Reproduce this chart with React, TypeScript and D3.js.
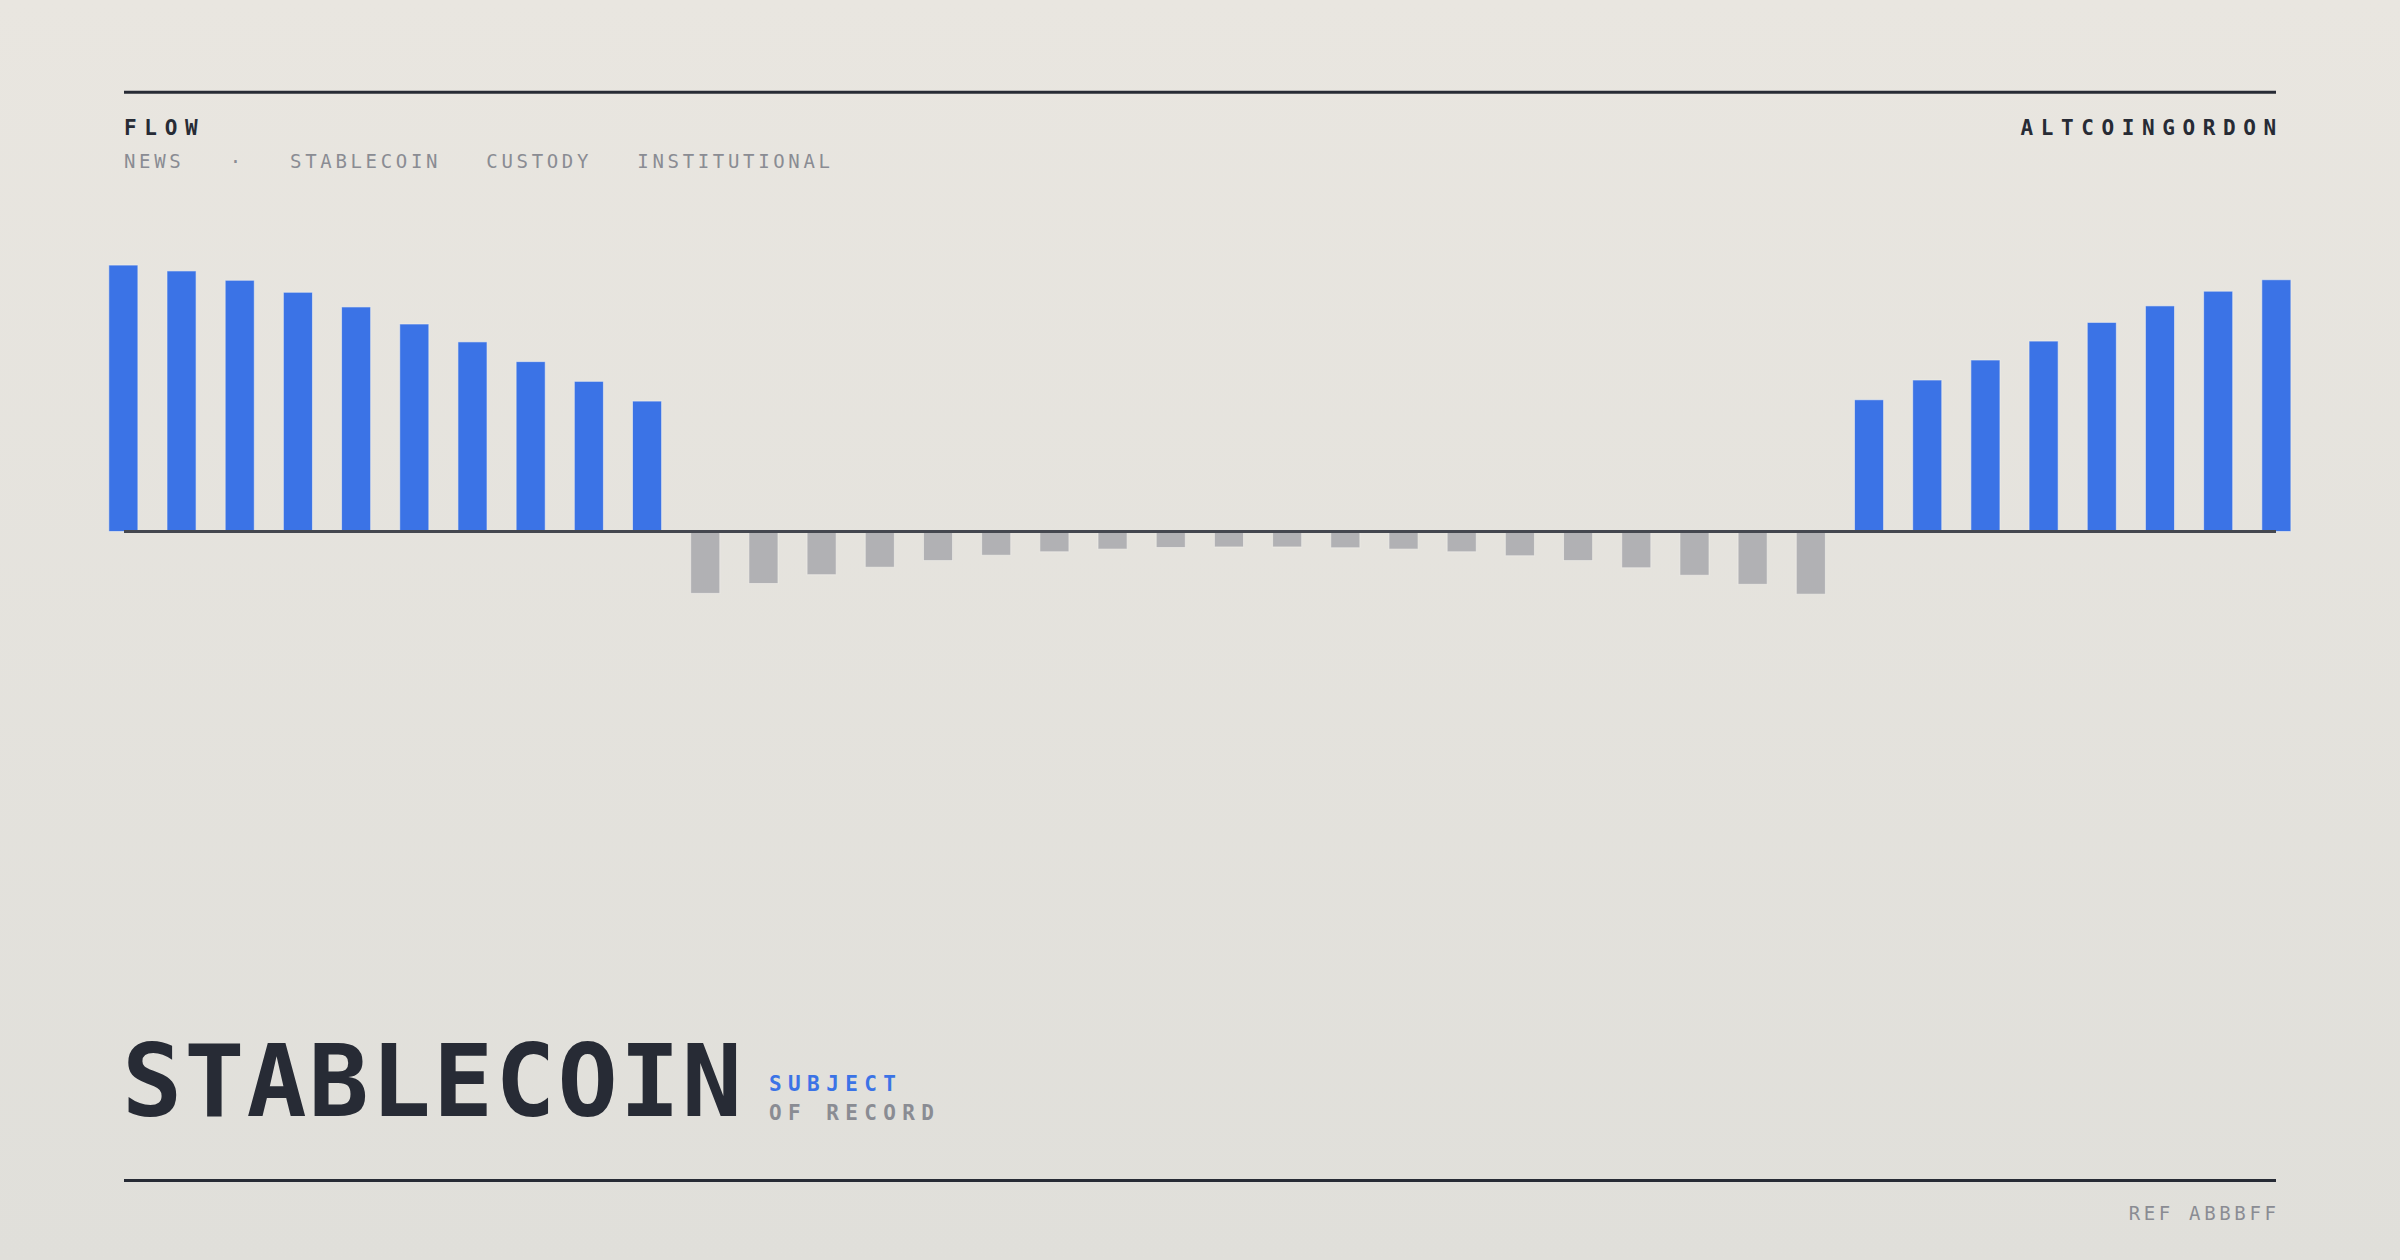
import React, { useEffect } from "react";
import * as d3 from "d3";

const W = 2400;
const H = 1260;

// Bar values (arbitrary units, 100 = tallest inflow)
const flowValues = [
  99.9, 97.7, 94.2, 89.7, 84.2, 77.8, 71.1, 63.7, 56.3, 48.9,
  -23.2, -19.5, -16.2, -13.4, -10.9, -8.9, -7.6, -6.6, -6.0, -5.8,
  -5.8, -6.1, -6.6, -7.6, -9.1, -10.9, -13.6, -16.4, -19.8, -23.5,
  49.4, 56.8, 64.3, 71.4, 78.4, 84.6, 90.1, 94.4,
];
const periods = flowValues.map((_, i) => i);

const headerLeft = "FLOW";
const headerRight = "ALTCOINGORDON";
const tagLine = "NEWS   ·   STABLECOIN   CUSTODY   INSTITUTIONAL";
const titleText = "STABLECOIN";
const subTop = "SUBJECT";
const subBottom = "OF RECORD";
const refText = "REF ABBBFF";

const COL_DARK = "#272b35";
const COL_GRAY = "#8a8c93";
const COL_BLUE = "#3b73e6";
const COL_NEG = "#b1b1b4";
const MONO = "'DejaVu Sans Mono', 'Liberation Mono', monospace";

export default function App() {
  useEffect(() => {
    document.body.style.margin = "0";
  }, []);

  const left = 124;
  const right = 2276;

  const x = d3
    .scaleBand<number>()
    .domain(periods)
    .range([94.25, 2305.45])
    .paddingInner(0.5)
    .paddingOuter(0.25);

  const y = d3.scaleLinear().domain([0, 100]).range([531.5, 264.8]);

  return (
    <svg
      width={W}
      height={H}
      viewBox={`0 0 ${W} ${H}`}
      style={{ position: "absolute", left: 0, top: 0, display: "block" }}
    >
      <defs>
        <linearGradient id="bg" x1="0" y1="0" x2="0" y2="1">
          <stop offset="0" stopColor="#e9e6e0" />
          <stop offset="1" stopColor="#e0dfda" />
        </linearGradient>
      </defs>
      <rect x={0} y={0} width={W} height={H} fill="url(#bg)" />

      {/* top rule */}
      <line x1={left} x2={right} y1={92.3} y2={92.3} stroke={COL_DARK} strokeWidth={3} />

      <text
        x={left}
        y={135}
        fontFamily={MONO}
        fontWeight={700}
        fontSize={21}
        letterSpacing={7.7}
        fill={COL_DARK}
      >
        {headerLeft}
      </text>
      <text
        x={right + 7.7}
        y={135}
        textAnchor="end"
        fontFamily={MONO}
        fontWeight={700}
        fontSize={21}
        letterSpacing={7.6}
        fill={COL_DARK}
      >
        {headerRight}
      </text>
      <text
        x={left}
        y={167.5}
        fontFamily={MONO}
        fontSize={19}
        letterSpacing={3.66}
        fill={COL_GRAY}
        style={{ whiteSpace: "pre" }}
      >
        {tagLine}
      </text>

      {/* bars */}
      <g>
        {flowValues.map((v, i) => {
          const y0 = y(0);
          const y1 = y(v);
          return (
            <rect
              key={i}
              x={x(i)}
              y={Math.min(y0, y1)}
              width={x.bandwidth()}
              height={Math.abs(y1 - y0)}
              fill={v >= 0 ? COL_BLUE : COL_NEG}
              stroke="#f3f1ec"
              strokeOpacity={0.6}
              strokeWidth={1}
            />
          );
        })}
      </g>
      {/* zero axis */}
      <line
        x1={left}
        x2={right}
        y1={y(0)}
        y2={y(0)}
        stroke="#44474f"
        strokeWidth={3}
      />

      {/* title block */}
      <text
        x={left - 2}
        y={1116}
        fontFamily={MONO}
        fontWeight={700}
        fontSize={100}
        letterSpacing={2}
        fill={COL_DARK}
      >
        {titleText}
      </text>
      <text
        x={769}
        y={1090.7}
        fontFamily={MONO}
        fontWeight={700}
        fontSize={21}
        letterSpacing={6.4}
        fill={COL_BLUE}
      >
        {subTop}
      </text>
      <text
        x={769}
        y={1120}
        fontFamily={MONO}
        fontWeight={700}
        fontSize={21}
        letterSpacing={6.4}
        fill={COL_GRAY}
      >
        {subBottom}
      </text>

      {/* bottom rule */}
      <line x1={left} x2={right} y1={1180.5} y2={1180.5} stroke={COL_DARK} strokeWidth={3} />
      <text
        x={right + 3.66}
        y={1220}
        textAnchor="end"
        fontFamily={MONO}
        fontSize={19}
        letterSpacing={3.66}
        fill={COL_GRAY}
      >
        {refText}
      </text>
    </svg>
  );
}
